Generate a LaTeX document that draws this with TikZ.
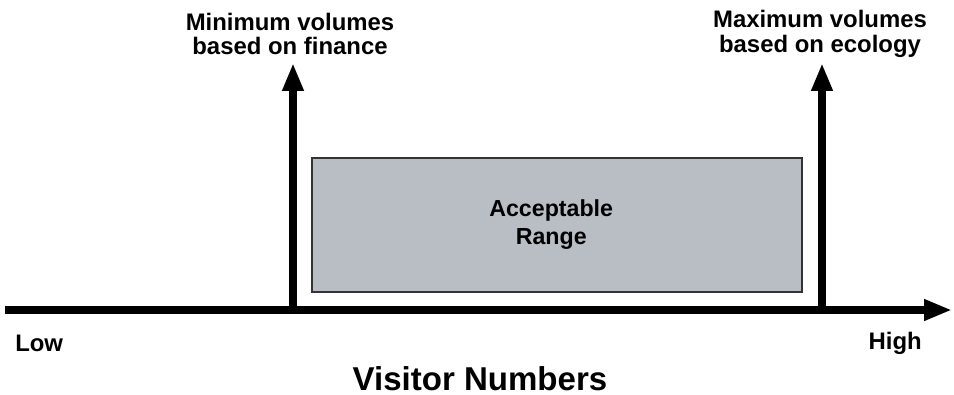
\documentclass[tikz,border=0pt]{standalone}
\usepackage{fontspec}
\setmainfont{Liberation Sans}
\usetikzlibrary{arrows.meta}
\usetikzlibrary{positioning}
\definecolor{rgrey}{RGB}{185, 189, 196}

\tikzset{
  thickarrow/.style={line width=5.5pt, -{Triangle[length=0.7cm, width=0.5cm]}},
  toplabel/.style={font=\fontsize{17}{17.5}\selectfont\bfseries, align=center},
  endlabel/.style={font=\fontsize{17}{20}\selectfont\bfseries, inner sep=0pt}
}

\begin{document}
\begin{tikzpicture}
    \useasboundingbox (0, 0) rectangle (23.85, 9.875);

    \coordinate (axisstart) at (0.125, 2.125);
    \coordinate (axisend) at (23.8, 2.125);
    \coordinate (minfoot) at (7.325, 2.125);
    \coordinate (mintop) at (7.325, 8.3);
    \coordinate (maxfoot) at (20.55, 2.125);
    \coordinate (maxtop) at (20.55, 8.3);

    \node [draw=black!80, line width=1pt, fill=rgrey, minimum width=12.25cm, minimum height=3.35cm] (range) at (13.925, 4.25) {};
    \node [font=\fontsize{16.5}{20}\selectfont\bfseries, align=center] (rangetext) at (13.78, 4.27) {Acceptable\\Range};

    \draw [thickarrow] (axisstart) -- (axisend);
    \draw [thickarrow] (minfoot) -- (mintop);
    \draw [thickarrow] (maxfoot) -- (maxtop);

    \node [toplabel] (minlabel) at (7.25, 9.03) {Minimum volumes\\based on finance};
    \node [toplabel] (maxlabel) at (20.5, 9.03) {Maximum volumes\\based on ecology};

    \node [endlabel, anchor=west] (low) at (0.375, 1.28) {Low};
    \node [endlabel, anchor=east] (high) at (23.05, 1.28) {High};

    \node [font=\fontsize{23.5}{28}\selectfont\bfseries] (xtitle) at (12.0, 0.42) {Visitor Numbers};
  \end{tikzpicture}
\end{document}
